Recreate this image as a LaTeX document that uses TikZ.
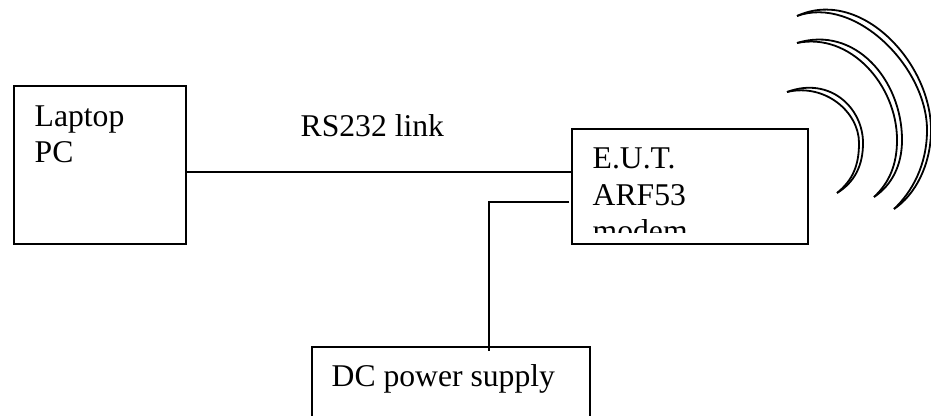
\documentclass[tikz,border=0pt]{standalone}
\usepackage{fontspec}
\setmainfont{Liberation Serif}

\tikzset{
  unitbox/.style={draw,line width=.02cm,inner sep=0,anchor=north west},
  unittext/.style={inner sep=0,anchor=base west,align=left,font=\fontsize{9pt}{10.4pt}\selectfont},
  wire/.style={line width=.02cm},
  wave/.style={line width=.018cm}
}

\begin{document}
\begin{tikzpicture}[x=.01cm,y=-.01cm]
        \useasboundingbox (0,0) rectangle (931,416);

        \node[unitbox,minimum width=1.72cm,minimum height=1.58cm] (laptop) at (13,85) {};
        \node[unitbox,minimum width=2.36cm,minimum height=1.15cm] (eut) at (571,128) {};
        \node[unitbox,minimum width=2.78cm,minimum height=1.00cm] (supply) at (311,346) {};

        \node[unittext] (laptoptext) at (34,163) {Laptop\\PC};
        \node[unittext] (linktext) at (300,137) {RS232 link};
        \node[unittext] (supplytext) at (331,387) {DC power supply};
        \begin{scope}
          \clip (571,128) rectangle (807,233);
          \node[unittext] (euttext) at (592,242) {E.U.T.\\ARF53\\modem};
        \end{scope}

        \coordinate (linkleft) at (laptop.east |- 0,172);
        \coordinate (linkright) at (eut.west |- 0,172);
        \coordinate (powerend) at (569,202);
        \coordinate (powerbend) at (489,202);
        \coordinate (powerstart) at (489,351);
        \draw[wire] (linkleft) -- (linkright);
        \draw[wire] (powerend) -- (powerbend) -- (powerstart);

        % small wave
        \draw[wave] (787,92) .. controls (830,76) and (863,108) .. (863,143)
          .. controls (863,165) and (855,182) .. (837,193);
        \draw[wave] (787,92) .. controls (825,83) and (859,112) .. (859,143)
          .. controls (859,165) and (853,180) .. (837,193);
        % middle wave
        \draw[wave] (797,43) .. controls (855,25) and (902,80) .. (902,140)
          .. controls (902,165) and (892,185) .. (874,197);
        \draw[wave] (797,43) .. controls (850,32) and (897,85) .. (897,140)
          .. controls (897,165) and (889,183) .. (874,197);
        % big wave
        \draw[wave] (797,16) .. controls (860,-13) and (931,62) .. (931,130)
          .. controls (931,165) and (915,195) .. (894,209);
        \draw[wave] (797,16) .. controls (855,-5) and (927,67) .. (927,130)
          .. controls (927,165) and (912,192) .. (894,209);
      \end{tikzpicture}
\end{document}
